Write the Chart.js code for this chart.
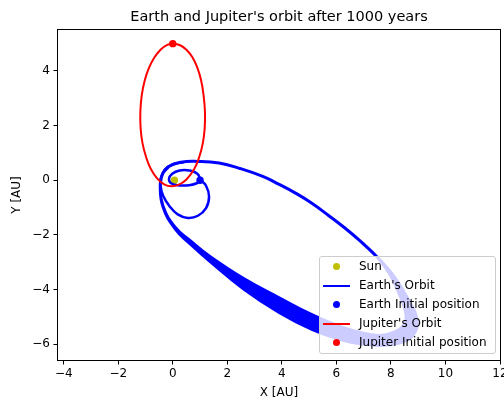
<!DOCTYPE html>
<html>
<head>
<meta charset="utf-8">
<title>Earth and Jupiter's orbit after 1000 years</title>
<script src="https://cdn.jsdelivr.net/npm/chart.js@4.4.0/dist/chart.umd.min.js"></script>
<style>
  body { margin: 0; background: #fff; }
  #wrap { position: relative; width: 504px; height: 400px; }
  #legend {
    position: absolute; left: 319px; top: 256px; width: 175px; height: 96px;
    background: rgba(255, 255, 255, 0.8); border: 1px solid #cccccc; border-radius: 3px;
    font: 12px "DejaVu Sans", sans-serif; color: #000;
  }
  .row { position: absolute; left: 0; width: 100%; height: 19px; line-height: 19px; white-space: nowrap; }
  .mk-line { position: absolute; left: 3px; width: 27px; height: 2px; top: 9px; }
  .mk-dot { position: absolute; left: 12.5px; width: 7.4px; height: 7.4px; top: 5.8px; border-radius: 50%; }
  .txt { position: absolute; left: 39px; top: 0; }
</style>
</head>
<body>
<div id="wrap">
  <canvas id="myChart" width="504" height="400"></canvas>
  <div id="legend"></div>
</div>
<script>
// axis ranges and ticks
const xRange = [-4.21, 12.0];
const yRange = [-6.58, 5.5];
const xTicks = [-4, -2, 0, 2, 4, 6, 8, 10, 12];
const yTicks = [-6, -4, -2, 0, 2, 4];

// single markers [x, y]
const sunPos = [[0.06, 0.0]];
const earthStart = [[1.0, 0.0]];
const jupiterStart = [[0.0, 5.0]];

// Jupiter's orbit (traced)
const jupiterOrbit = [
  [0.0, 5.0], [0.25, 4.95], [0.5, 4.78], [0.72, 4.5], [0.9, 4.12], [1.04, 3.65],
  [1.13, 3.1], [1.18, 2.5], [1.17, 1.9], [1.1, 1.35], [0.97, 0.85], [0.78, 0.4],
  [0.5, 0.03], [0.22, -0.16], [-0.05, -0.22], [-0.3, -0.16], [-0.56, 0.05],
  [-0.8, 0.4], [-0.98, 0.85], [-1.11, 1.35], [-1.18, 1.9], [-1.19, 2.5],
  [-1.14, 3.1], [-1.03, 3.65], [-0.87, 4.12], [-0.67, 4.5], [-0.45, 4.78],
  [-0.22, 4.95], [0.0, 5.0], [0.25, 4.95]
];

// Earth's orbit pieces (traced)
const earthInner = [
  [1.02, 0.0], [0.9, 0.24], [0.6, 0.36], [0.25, 0.36], [-0.02, 0.24], [-0.14, 0.05],
  [-0.05, -0.12], [0.25, -0.19], [0.6, -0.18], [0.9, -0.1], [1.02, 0.0]
];
const earthMiddle = [
  [1.02, 0.0], [1.22, -0.2], [1.33, -0.6], [1.22, -1.02], [0.92, -1.3], [0.55, -1.38],
  [0.18, -1.25], [-0.12, -0.95], [-0.35, -0.58], [-0.45, -0.2], [-0.42, 0.12],
  [-0.28, 0.4], [0.0, 0.58], [0.4, 0.66]
];
const earthUpper = [
  [-0.46, -0.15], [-0.38, 0.22], [-0.15, 0.5], [0.3, 0.66], [0.9, 0.69], [1.7, 0.63],
  [2.5, 0.42], [3.3, 0.14], [3.9, -0.15], [4.5, -0.47], [5.1, -0.84], [5.7, -1.28],
  [6.3, -1.74], [6.9, -2.25], [7.5, -2.82]
];
const earthLowerA = [
  [8.1, -3.5], [8.6, -4.3], [8.95, -5.05], [8.86, -5.6], [8.45, -5.92], [7.8, -6.04],
  [7.0, -6.0], [6.2, -5.85], [5.1, -5.46], [3.9, -4.84], [2.6, -3.98], [1.35, -2.96],
  [0.65, -2.34], [0.1, -1.8], [-0.36, -0.97], [-0.46, -0.15]
];
const earthLowerB = [
  [8.07, -3.47], [8.54, -4.27], [8.87, -5.02], [8.78, -5.54], [8.38, -5.85], [7.76, -5.97],
  [7.0, -5.92], [6.2, -5.76], [5.1, -5.37], [3.9, -4.73], [2.6, -3.9], [1.35, -2.92],
  [0.65, -2.32], [0.1, -1.79], [-0.36, -0.965], [-0.46, -0.15]
];
const earthLowerC = [
  [8.04, -3.46], [8.48, -4.24], [8.79, -4.99], [8.7, -5.48], [8.31, -5.78], [7.72, -5.9],
  [7.0, -5.84], [6.2, -5.66], [5.1, -5.26], [3.9, -4.62], [2.6, -3.83], [1.35, -2.89],
  [0.65, -2.3], [0.1, -1.78], [-0.36, -0.96], [-0.46, -0.15]
];
const earthLowerD = [
  [8.01, -3.45], [8.42, -4.21], [8.71, -4.96], [8.62, -5.42], [8.24, -5.7], [7.68, -5.83],
  [7.0, -5.76], [6.2, -5.57], [5.1, -5.15], [3.9, -4.51], [2.6, -3.75], [1.35, -2.85],
  [0.65, -2.27], [0.1, -1.77], [-0.36, -0.955], [-0.46, -0.15]
];
const earthLowerE = [
  [7.98, -3.43], [8.36, -4.18], [8.63, -4.93], [8.54, -5.36], [8.18, -5.63], [7.64, -5.75],
  [7.0, -5.68], [6.2, -5.47], [5.1, -5.03], [3.9, -4.4], [2.6, -3.68], [1.35, -2.81],
  [0.65, -2.25], [0.1, -1.76], [-0.36, -0.95], [-0.46, -0.15]
];
const earthLowerF = [
  [7.95, -3.42], [8.3, -4.15], [8.55, -4.9], [8.47, -5.3], [8.12, -5.56], [7.6, -5.68],
  [7.0, -5.6], [6.2, -5.38], [5.1, -4.92], [3.9, -4.3], [2.6, -3.6], [1.35, -2.78],
  [0.65, -2.22], [0.1, -1.74], [-0.36, -0.94], [-0.46, -0.15]
];

const legendLabels = ['Sun', "Earth's Orbit", 'Earth Initial position', "Jupiter's Orbit", 'Jupiter Initial position'];
const legendKinds = ['dot', 'line', 'dot', 'line', 'dot'];
const legendColors = ['#bfbf00', '#0000ff', '#0000ff', '#ff0000', '#ff0000'];

const FONT = '"DejaVu Sans", sans-serif';
const pts = arr => arr.map(p => ({ x: p[0], y: p[1] }));

// one continuous path: upper arc, then each lower track back to perihelion
let earthBig = earthUpper.slice();
[earthLowerA, earthLowerB, earthLowerC, earthLowerD, earthLowerE, earthLowerF].forEach((lower, i) => {
  if (i > 0) earthBig = earthBig.concat(earthUpper.slice(1));
  earthBig = earthBig.concat(lower);
});
earthBig = earthBig.concat(earthUpper.slice(1, 3));

function lineSet(data, color, width, order) {
  return { data: pts(data), showLine: true, borderColor: color, borderWidth: width,
    pointRadius: 0, tension: 0.45, fill: false, order: order };
}
function dotSet(data, color, order) {
  return { data: pts(data), showLine: false, pointRadius: 3.7, pointBorderWidth: 0,
    pointBackgroundColor: color, borderColor: color, order: order };
}

const frame = {
  id: 'frame',
  afterDatasetsDraw(chart) {
    const { ctx, chartArea: a } = chart;
    ctx.save();
    ctx.strokeStyle = '#000';
    ctx.lineWidth = 1;
    ctx.strokeRect(Math.round(a.left) - 0.5, Math.round(a.top) - 0.5,
      Math.round(a.right - a.left) + 1, Math.round(a.bottom - a.top) + 1);
    ctx.restore();
  }
};

const minus = v => String(v).replace('-', '\u2212');

new Chart(document.getElementById('myChart').getContext('2d'), {
  type: 'scatter',
  data: {
    datasets: [
      dotSet(sunPos, '#bfbf00', 9),
      lineSet(earthInner, '#0000ff', 2.5, 8),
      lineSet(earthMiddle, '#0000ff', 2.5, 7),
      lineSet(earthBig, '#0000ff', 3, 6),
      dotSet(earthStart, '#0000ff', 5),
      lineSet(jupiterOrbit, '#ff0000', 2, 4),
      dotSet(jupiterStart, '#ff0000', 3)
    ]
  },
  options: {
    responsive: false,
    animation: false,
    events: [],
    devicePixelRatio: 1,
    layout: { padding: { left: 0, right: 3, top: 0, bottom: 0 } },
    plugins: {
      legend: { display: false },
      tooltip: { enabled: false },
      title: {
        display: true, fullSize: false,
        text: "Earth and Jupiter's orbit after 1000 years",
        color: '#000', font: { family: FONT, size: 14.5, weight: 'normal' },
        padding: { top: 8.5, bottom: 4.1 }
      }
    },
    scales: {
      x: {
        type: 'linear', min: xRange[0], max: xRange[1],
        afterBuildTicks: s => { s.ticks = xTicks.map(v => ({ value: v })); },
        afterFit: s => { s.height = 40; s.paddingLeft = 0; s.paddingRight = 0; },
        ticks: { color: '#000', font: { family: FONT, size: 12 }, padding: 2, maxRotation: 0, autoSkip: false, callback: minus },
        grid: { drawOnChartArea: false, drawTicks: true, tickLength: 4.5, color: '#000', tickColor: '#000' },
        border: { display: false },
        title: { display: true, text: 'X [AU]', color: '#000', font: { family: FONT, size: 12 }, padding: { top: 0, bottom: 0 } }
      },
      y: {
        type: 'linear', min: yRange[0], max: yRange[1],
        afterBuildTicks: s => { s.ticks = yTicks.map(v => ({ value: v })); },
        afterFit: s => { s.width = 58; s.paddingTop = 0; s.paddingBottom = 0; },
        ticks: { color: '#000', font: { family: FONT, size: 12 }, padding: 3.5, autoSkip: false, callback: minus },
        grid: { drawOnChartArea: false, drawTicks: true, tickLength: 4.5, color: '#000', tickColor: '#000' },
        border: { display: false },
        title: { display: true, text: 'Y [AU]', color: '#000', font: { family: FONT, size: 12 }, padding: { top: 10, bottom: 0 } }
      }
    }
  },
  plugins: [frame]
});

// legend box (matplotlib style, lower right)
const legend = document.getElementById('legend');
legendLabels.forEach((label, i) => {
  const row = document.createElement('div');
  row.className = 'row';
  row.style.top = (0.2 + 18.9 * i) + 'px';
  const mk = document.createElement('span');
  mk.className = legendKinds[i] === 'line' ? 'mk-line' : 'mk-dot';
  mk.style.background = legendColors[i];
  const txt = document.createElement('span');
  txt.className = 'txt';
  txt.textContent = label;
  row.appendChild(mk);
  row.appendChild(txt);
  legend.appendChild(row);
});
</script>
</body>
</html>
